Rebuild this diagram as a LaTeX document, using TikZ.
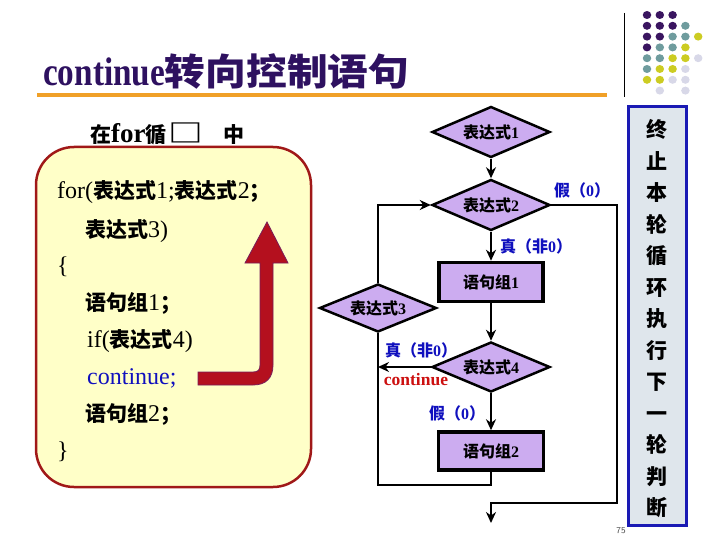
\documentclass[tikz,border=0pt]{standalone}
\usepackage{fontspec}
\setmainfont{Liberation Serif}
\newfontfamily\cjk{Noto Sans CJK SC}
\usetikzlibrary{shapes.geometric,arrows.meta}
\newcommand\zh[1]{{\cjk\bfseries #1}}
\newcommand\fs[1]{\fontsize{#1}{#1}\selectfont}
\newcommand\zhc[1]{{\cjk\bfseries\fs{21}#1}}
\definecolor{lav}{RGB}{204,172,240}
\definecolor{lblue}{RGB}{16,16,190}
\definecolor{ttl}{RGB}{46,17,96}
\definecolor{org}{RGB}{240,160,40}
\definecolor{boxfill}{RGB}{255,255,200}
\definecolor{boxline}{RGB}{160,24,24}
\definecolor{arfill}{RGB}{180,16,30}
\definecolor{arline}{RGB}{120,30,90}
\definecolor{noteFill}{RGB}{223,230,236}
\definecolor{noteLine}{RGB}{26,26,180}
\definecolor{dP}{RGB}{58,21,96}
\definecolor{dT}{RGB}{111,156,158}
\definecolor{dY}{RGB}{204,204,34}
\definecolor{dL}{RGB}{216,216,232}
\definecolor{contred}{RGB}{204,16,16}
\begin{document}
\begin{tikzpicture}[x=1pt,y=-1pt,
  dia/.style={diamond, aspect=2.3, draw=black, line width=2.5pt, fill=lav, minimum width=118pt, minimum height=51pt, inner sep=0pt, font=\fs{16}\bfseries},
  blk/.style={rectangle, draw=black, line width=3.5pt, fill=lav, minimum width=104pt, minimum height=39pt, inner sep=0pt, font=\fs{16}\bfseries},
  flow/.style={line width=2.5pt, draw=black},
  arr/.style={flow, -{Stealth[length=11pt,width=10pt]}},
  lbl/.style={text=lblue, font=\fs{16}\bfseries, inner sep=0pt},
  code/.style={anchor=west, font=\fs{24}, inner sep=0pt},
  dot/.style={ellipse, minimum width=8.5pt, minimum height=8pt, inner sep=0pt}]
\useasboundingbox (0,0) rectangle (720,540);

% title
\node[anchor=base west, inner sep=0pt, text=ttl] (title) at (43,86)
  {\scalebox{0.83}[1]{\fs{40}\bfseries continue}\scalebox{1.1}[1]{\fs{37}\zh{转向控制语句}}};
\draw[org, line width=4pt] (37,95) -- (607,95);
\draw[black, line width=0.8pt] (624,13) -- (624,97);

% dots
\foreach \row [count=\j from 0] in {{P,P,P,N,N},{P,P,P,T,N},{P,P,T,T,Y},{P,T,T,Y,N},{T,T,Y,Y,L},{T,Y,Y,L,N},{Y,Y,L,L,N},{N,L,N,L,N}}{
  \foreach \c [count=\i from 0] in \row {
    \if\c N\else
      \node[dot, fill=d\c] (dot\i\j) at ({647+12.8*\i},{15+10.8*\j}) {};
    \fi
  }
}

% left label
\node[anchor=west, inner sep=0pt, font=\fs{27}\bfseries] (inlbl) at (90,134)
  {\zhc{在}for\zhc{循}\hspace{2pt}\scalebox{1.45}[1.05]{\cjk\bfseries\fs{24}□}\hspace{20pt}\zhc{中}};

% code box
\draw[fill=boxfill, draw=boxline, line width=2.5pt, rounded corners=38pt] (36,147) rectangle (311,487);
\node[code] (l1) at (57,192) {for(\zhc{表达式}1;\zhc{表达式}2\zhc{；}};
\node[code] (l2) at (85,231) {\zhc{表达式}3)};
\node[code] (l3) at (57,267) {\{};
\node[code] (l4) at (85,303) {\zhc{语句组}1\zhc{；}};
\node[code] (l5) at (87,341) {if(\zhc{表达式}4)};
\node[code, text=lblue] (l6) at (87,378) {continue;};
\node[code] (l7) at (85,414) {\zhc{语句组}2\zhc{；}};
\node[code] (l8) at (57,452) {\}};

% red arrow
\filldraw[fill=arfill, draw=arline, line width=0.8pt]
  (198,372) -- (253,372) .. controls (258,372) and (260,370) .. (260,365)
  -- (260,263) -- (245,263) -- (267,222) -- (288,263) -- (273,263) -- (273,365)
  .. controls (273,378) and (266,385) .. (253,385) -- (198,385) -- cycle;

% flowchart
\node[dia] (d1) at (491,132) {\zh{表达式}1};
\node[dia] (d2) at (491,205) {\zh{表达式}2};
\node[blk] (b1) at (491,282) {\zh{语句组}1};
\node[dia, minimum width=117pt, minimum height=48pt] (d3) at (378,308) {\zh{表达式}3};
\node[dia, minimum height=50pt] (d4) at (491,367) {\zh{表达式}4};
\node[blk, minimum width=105pt, minimum height=38pt] (b2) at (491,451) {\zh{语句组}2};

\coordinate (cA) at (378,205);
\coordinate (cB) at (491,485);
\coordinate (cC) at (378,485);
\coordinate (cD) at (617,205);
\coordinate (cE) at (617,503);
\coordinate (cF) at (491,503);
\coordinate (cG) at (491,523);
\coordinate (c4) at (378,367);

\draw[arr] (d1.south) -- (d2.north);
\draw[arr] (d2.south) -- (b1.north);
\draw[arr] (b1.south) -- (d4.north);
\draw[arr] (d4.south) -- (b2.north);
\draw[flow] (b2.south) -- (cB) -- (cC) -- (d3.south);
\draw[arr] (d3.north) -- (cA) -- (d2.west);
\draw[arr] (d4.west) -- (c4);
\draw[arr] (d2.east) -- (cD) -- (cE) -- (cF) -- (cG);

\node[lbl] (f1) at (582,190) {\zh{假（}0\zh{）}};
\node[lbl] (t1) at (536,246) {\zh{真（非}0\zh{）}};
\node[lbl] (t2) at (421,350) {\zh{真（非}0\zh{）}};
\node[inner sep=0pt, text=contred, font=\fs{17.5}\bfseries] (cont) at (416,380) {continue};
\node[lbl] (f2) at (457,413) {\zh{假（}0\zh{）}};

% right note
\node[draw=noteLine, fill=noteFill, line width=3pt, minimum width=58pt, minimum height=418pt, inner sep=0pt] (notebox) at (657,316) {};
\node[align=center, inner sep=0pt, font=\fs{21}] (note) at (657,319)
  {\zh{终}\\[10.5pt]\zh{止}\\[10.5pt]\zh{本}\\[10.5pt]\zh{轮}\\[10.5pt]\zh{循}\\[10.5pt]\zh{环}\\[10.5pt]\zh{执}\\[10.5pt]\zh{行}\\[10.5pt]\zh{下}\\[10.5pt]\zh{一}\\[10.5pt]\zh{轮}\\[10.5pt]\zh{判}\\[10.5pt]\zh{断}};
\node[inner sep=0pt, font=\sffamily\fs{9}, text=black!70] (pg) at (621,531) {75};
\end{tikzpicture}
\end{document}
